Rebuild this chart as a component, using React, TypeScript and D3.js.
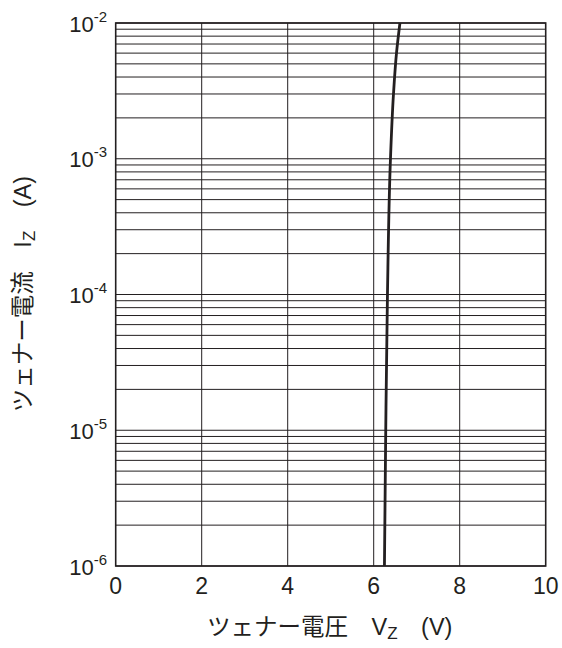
import * as d3 from 'd3';
import React from 'react';

// zener curve: current (A) vs voltage (V)
const currents = [1e-6, 1e-5, 1e-4, 1e-3, 3e-3, 6e-3, 1e-2];
const voltages = [6.25, 6.28, 6.32, 6.39, 6.46, 6.53, 6.61];

const xTicks = [0, 2, 4, 6, 8, 10];
const yDecades = [-6, -5, -4, -3, -2];

const ink = '#231f20';
const latin = "'Liberation Sans', Arial, sans-serif";
const cjk = "'Noto Sans CJK JP', 'Liberation Sans', sans-serif";

export default function App() {
  const left = 115.7, right = 545.7, top = 23, bottom = 566;

  const x = d3.scaleLinear().domain([0, 10]).range([left, right]);
  const y = d3.scaleLog().domain([1e-6, 1e-2]).range([bottom, top]);

  const pts = currents.map((c, i) => ({ c, v: voltages[i] }));
  const line = d3.line<{ c: number; v: number }>()
    .x(d => x(d.v))
    .y(d => y(d.c))
    .curve(d3.curveMonotoneY);

  const hGrid = y.ticks();

  return (
    <svg width={562} height={648}
      style={{ position: 'absolute', left: 0, top: 0, background: '#fff' }}
      fontFamily={latin}>
      {/* horizontal grid */}
      {hGrid.map((t, i) => (
        <line key={'h' + i} x1={left} x2={right} y1={y(t)} y2={y(t)} stroke={ink} strokeWidth={1} />
      ))}
      {/* vertical grid */}
      {xTicks.slice(1, -1).map(t => (
        <line key={'v' + t} x1={x(t)} x2={x(t)} y1={top} y2={bottom} stroke={ink} strokeWidth={1} />
      ))}
      {/* frame */}
      <rect x={left} y={top} width={right - left} height={bottom - top} fill="none" stroke={ink} strokeWidth={1.6} />

      {/* curve */}
      <path d={line(pts) || ''} fill="none" stroke={ink} strokeWidth={2.8} />

      {/* y tick labels */}
      {yDecades.map(e => (
        <text key={'yl' + e} x={107} y={y(Math.pow(10, e)) + 8.5} textAnchor="end" fill={ink} fontSize={22}>
          <tspan>10</tspan>
          <tspan dy={-10} fontSize={15}>{'-' + Math.abs(e)}</tspan>
        </text>
      ))}

      {/* x tick labels */}
      {xTicks.map(t => (
        <text key={'xl' + t} x={x(t)} y={594} textAnchor="middle" fill={ink} fontSize={23}>{t}</text>
      ))}

      {/* x axis title */}
      <text x={207} y={635} fill={ink} fontSize={23.5} fontFamily={cjk}>
        <tspan>ツェナー電圧　</tspan>
        <tspan fontFamily={latin} fontSize={23.5}>V</tspan>
        <tspan fontFamily={latin} fontSize={17} dy={4}>Z</tspan>
        <tspan dy={-4}>　</tspan>
        <tspan fontFamily={latin} fontSize={23.5}>(V)</tspan>
      </text>

      {/* y axis title */}
      <text transform="translate(31,294) rotate(-90)" textAnchor="middle" fill={ink} fontSize={23.5}
        fontFamily={cjk}>
        <tspan>ツェナー電流　</tspan>
        <tspan fontFamily={latin} fontSize={23.5}>I</tspan>
        <tspan fontFamily={latin} fontSize={17} dy={4}>Z</tspan>
        <tspan dy={-4}>　</tspan>
        <tspan fontFamily={latin} fontSize={23.5}>(A)</tspan>
      </text>
    </svg>
  );
}
